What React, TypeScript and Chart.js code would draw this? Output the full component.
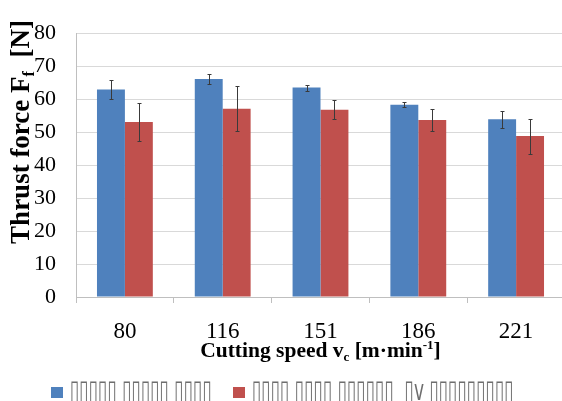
import React, { useEffect, useRef } from "react";
import { Chart, registerables } from "chart.js";

Chart.register(...registerables);

const categories = ["80", "116", "151", "186", "221"];
const blueValues = [62.9, 66.1, 63.5, 58.3, 53.9];
const blueErrors = [2.9, 1.6, 0.9, 0.8, 2.5];
const redValues = [53.1, 57.1, 56.8, 53.7, 48.8];
const redErrors = [5.7, 6.8, 2.9, 3.4, 5.3];
const yMin = 0;
const yMax = 80;
const yStep = 10;

const T = "\u25AF";
const legendLabels = [
  T.repeat(5) + " " + T.repeat(5) + " " + T.repeat(4),
  T.repeat(4) + " " + T.repeat(4) + " " + T.repeat(6) + "  " + T + "v " + T.repeat(9),
];
const seriesColors = ["#4f81bd", "#c0504d"];

const SERIF = "'Liberation Serif', 'Times New Roman', serif";

type Run = { text: string; font: string; dy: number };

function drawRuns(ctx: CanvasRenderingContext2D, runs: Run[], cx: number, baseline: number) {
  let total = 0;
  runs.forEach((r) => {
    ctx.font = r.font;
    total += ctx.measureText(r.text).width;
  });
  let x = cx - total / 2;
  ctx.textAlign = "left";
  ctx.textBaseline = "alphabetic";
  runs.forEach((r) => {
    ctx.font = r.font;
    ctx.fillText(r.text, x, baseline + r.dy);
    x += ctx.measureText(r.text).width;
  });
}

const errorBarPlugin = {
  id: "errorBars",
  afterDatasetsDraw(chart: any) {
    const ctx: CanvasRenderingContext2D = chart.ctx;
    const y = chart.scales.y;
    const errs = [blueErrors, redErrors];
    chart.data.datasets.forEach((ds: any, i: number) => {
      const meta = chart.getDatasetMeta(i);
      meta.data.forEach((bar: any, j: number) => {
        const v = ds.data[j] as number;
        const e = errs[i][j];
        const x = Math.round(bar.x) + 0.5;
        const yt = Math.round(y.getPixelForValue(v + e)) + 0.5;
        const yb = Math.round(y.getPixelForValue(v - e)) + 0.5;
        ctx.save();
        ctx.strokeStyle = "#3a3a3a";
        ctx.lineWidth = 1;
        ctx.beginPath();
        ctx.moveTo(x, yt);
        ctx.lineTo(x, yb);
        ctx.moveTo(x - 2, yt);
        ctx.lineTo(x + 2, yt);
        ctx.moveTo(x - 2, yb);
        ctx.lineTo(x + 2, yb);
        ctx.stroke();
        ctx.restore();
      });
    });
  },
};

const textPlugin = {
  id: "customText",
  afterDraw(chart: any) {
    const ctx: CanvasRenderingContext2D = chart.ctx;
    const area = chart.chartArea;
    ctx.save();
    ctx.fillStyle = "#000";
    const b = (s: number) => `bold ${s}px ${SERIF}`;
    drawRuns(
      ctx,
      [
        { text: "Cutting speed v", font: b(21.5), dy: 0 },
        { text: "c", font: b(13), dy: 4 },
        { text: " [m·min", font: b(21.5), dy: 0 },
        { text: "-1", font: b(13), dy: -8 },
        { text: "]", font: b(21.5), dy: 0 },
      ],
      (area.left + area.right) / 2,
      357
    );
    ctx.save();
    ctx.translate(29, 132);
    ctx.rotate(-Math.PI / 2);
    drawRuns(
      ctx,
      [
        { text: "Thrust force F", font: b(27), dy: 0 },
        { text: "f", font: b(16), dy: 5 },
        { text: "  [N]", font: b(27), dy: 0 },
      ],
      0,
      0
    );
    ctx.restore();
    const items = [
      { x: 51, tx: 70 },
      { x: 233, tx: 252 },
    ];
    const sx = 17 / 29;
    items.forEach((it, i) => {
      ctx.fillStyle = seriesColors[i];
      ctx.fillRect(it.x, 387, 12, 11);
      ctx.save();
      ctx.translate(it.tx, 400);
      ctx.scale(sx, 1);
      ctx.fillStyle = "#6e6e6e";
      ctx.font = `29px 'DejaVu Sans', sans-serif`;
      ctx.textAlign = "left";
      ctx.textBaseline = "alphabetic";
      ctx.fillText(legendLabels[i], 0, 0);
      ctx.restore();
    });
    ctx.restore();
  },
};

export default function App() {
  const ref = useRef<HTMLCanvasElement | null>(null);
  useEffect(() => {
    if (!ref.current) return;
    const chart = new Chart(ref.current, {
      type: "bar",
      data: {
        labels: categories,
        datasets: [
          {
            label: legendLabels[0],
            data: blueValues,
            backgroundColor: seriesColors[0],
            categoryPercentage: 0.571,
            barPercentage: 1,
          },
          {
            label: legendLabels[1],
            data: redValues,
            backgroundColor: seriesColors[1],
            categoryPercentage: 0.571,
            barPercentage: 1,
          },
        ],
      },
      options: {
        responsive: false,
        animation: false,
        devicePixelRatio: 1,
        layout: { padding: { top: 22, right: 5, left: 0, bottom: 0 } },
        plugins: {
          legend: { display: false },
          tooltip: { enabled: false },
        },
        scales: {
          x: {
            afterFit: (s: any) => {
              s.height = 104;
            },
            grid: {
              display: true,
              drawOnChartArea: false,
              drawTicks: true,
              tickLength: 6,
              color: "#bfbfbf",
              offset: true,
            },
            border: { display: true, color: "#bfbfbf" },
            ticks: {
              color: "#000",
              font: { family: SERIF, size: 23 },
              padding: 15,
            },
          },
          y: {
            min: yMin,
            max: yMax,
            afterFit: (s: any) => {
              s.width = 76;
            },
            grid: {
              color: "#d9d9d9",
              drawTicks: false,
            },
            border: { display: true, color: "#bfbfbf" },
            ticks: {
              stepSize: yStep,
              color: "#000",
              font: { family: SERIF, size: 22 },
              padding: 20,
            },
          },
        },
      },
      plugins: [errorBarPlugin, textPlugin],
    });
    return () => chart.destroy();
  }, []);
  return (
    <div
      style={{
        position: "fixed",
        left: 0,
        top: 0,
        width: 562,
        height: 401,
        overflow: "hidden",
        background: "#fff",
      }}
    >
      <canvas ref={ref} width={570} height={401} style={{ width: 570, height: 401, display: "block" }} />
    </div>
  );
}
